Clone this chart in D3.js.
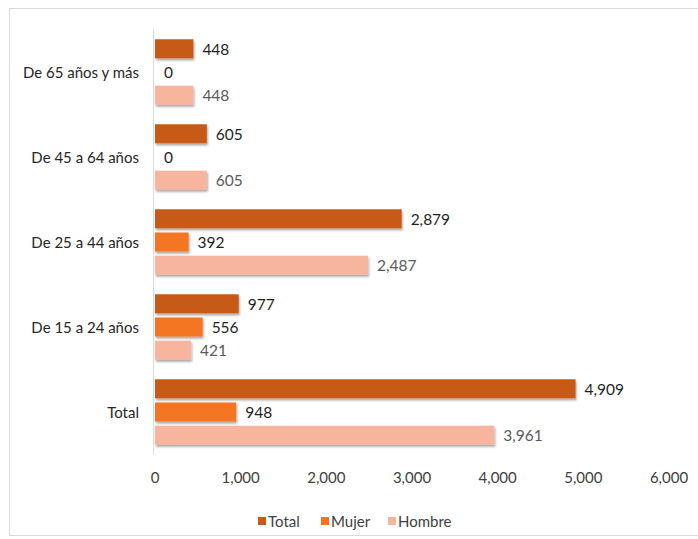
<!DOCTYPE html>
<html>
<head>
<meta charset="utf-8">
<script src="https://cdn.jsdelivr.net/npm/d3@7"></script>
<style>
  html, body { margin: 0; padding: 0; background: #fff; }
  svg { display: block; }
  text { font-family: Lato, "Open Sans", "Liberation Sans", sans-serif; }
</style>
</head>
<body>
<svg id="chart" width="698" height="539"></svg>
<script>
const categories = ["De 65 años y más", "De 45 a 64 años", "De 25 a 44 años", "De 15 a 24 años", "Total"];
const seriesNames = ["Total", "Mujer", "Hombre"];
const totalValues  = [448, 605, 2879, 977, 4909];
const mujerValues  = [0, 0, 392, 556, 948];
const hombreValues = [448, 605, 2487, 421, 3961];
const xTicks = [0, 1000, 2000, 3000, 4000, 5000, 6000];

const colors = { Total: "#C65A17", Mujer: "#F47421", Hombre: "#F6B59C" };
const labelColors = { Total: "#1f1f1f", Mujer: "#1f1f1f", Hombre: "#595959" };

const seriesValues = { Total: totalValues, Mujer: mujerValues, Hombre: hombreValues };
const rows = categories.map((c, i) => ({
  cat: c,
  vals: seriesNames.map(s => ({ s, v: seriesValues[s][i] }))
}));

const svg = d3.select("#chart");

// outer border
svg.append("rect")
  .attr("x", 9.5).attr("y", 8.5).attr("width", 690).attr("height", 527)
  .attr("fill", "none").attr("stroke", "#d9d9d9").attr("stroke-width", 1);

const defs = svg.append("defs");
const f = defs.append("filter").attr("id", "shadow")
  .attr("x", "-5%").attr("y", "-30%").attr("width", "115%").attr("height", "180%");
f.append("feDropShadow").attr("dx", 1).attr("dy", 2).attr("stdDeviation", 1.2)
  .attr("flood-color", "#000").attr("flood-opacity", 0.35);

const x = d3.scaleLinear().domain([0, 6000]).range([155, 669]);
const y = d3.scaleBand().domain(categories).range([29.5, 454.5]).paddingInner(0.23).paddingOuter(0.115);
const ySub = d3.scaleBand().domain(seriesNames).range([0, y.bandwidth()]).paddingInner(0.18);

// vertical axis line
svg.append("line")
  .attr("x1", x(0) - 1.5).attr("x2", x(0) - 1.5)
  .attr("y1", 29.5).attr("y2", 454.5)
  .attr("stroke", "#d9d9d9").attr("stroke-width", 1);

// category labels
svg.append("g").selectAll("text").data(categories).join("text")
  .attr("x", 139)
  .attr("y", d => y(d) + y.bandwidth() / 2)
  .attr("text-anchor", "end")
  .attr("dominant-baseline", "central")
  .attr("font-size", 15)
  .attr("fill", "#262626")
  .text(d => d);

const groups = svg.append("g").selectAll("g").data(rows).join("g")
  .attr("transform", d => `translate(0,${y(d.cat)})`);

groups.selectAll("rect").data(d => d.vals).join("rect")
  .attr("x", x(0))
  .attr("y", d => ySub(d.s))
  .attr("width", d => x(d.v) - x(0))
  .attr("height", ySub.bandwidth())
  .attr("fill", d => colors[d.s])
  .attr("filter", "url(#shadow)");

groups.selectAll("text").data(d => d.vals).join("text")
  .attr("x", d => x(d.v) + 9)
  .attr("y", d => ySub(d.s) + ySub.bandwidth() / 2)
  .attr("dominant-baseline", "central")
  .attr("font-size", 15.5)
  .attr("fill", d => labelColors[d.s])
  .text(d => d3.format(",")(d.v));

// x tick labels
svg.append("g").selectAll("text").data(xTicks).join("text")
  .attr("x", d => x(d))
  .attr("y", 477)
  .attr("text-anchor", "middle")
  .attr("dominant-baseline", "central")
  .attr("font-size", 15)
  .attr("fill", "#404040")
  .text(d => d3.format(",")(d));

// legend
const legendItems = [
  { s: "Total", x: 262 },
  { s: "Mujer", x: 325 },
  { s: "Hombre", x: 392 }
];
const lg = svg.append("g");
lg.selectAll("rect").data(legendItems).join("rect")
  .attr("x", d => d.x - 4).attr("y", 517)
  .attr("width", 8).attr("height", 8)
  .attr("fill", d => colors[d.s]);
lg.selectAll("text").data(legendItems).join("text")
  .attr("x", d => d.x + 6)
  .attr("y", 521)
  .attr("dominant-baseline", "central")
  .attr("font-size", 15)
  .attr("fill", "#404040")
  .text(d => d.s);
</script>
</body>
</html>
